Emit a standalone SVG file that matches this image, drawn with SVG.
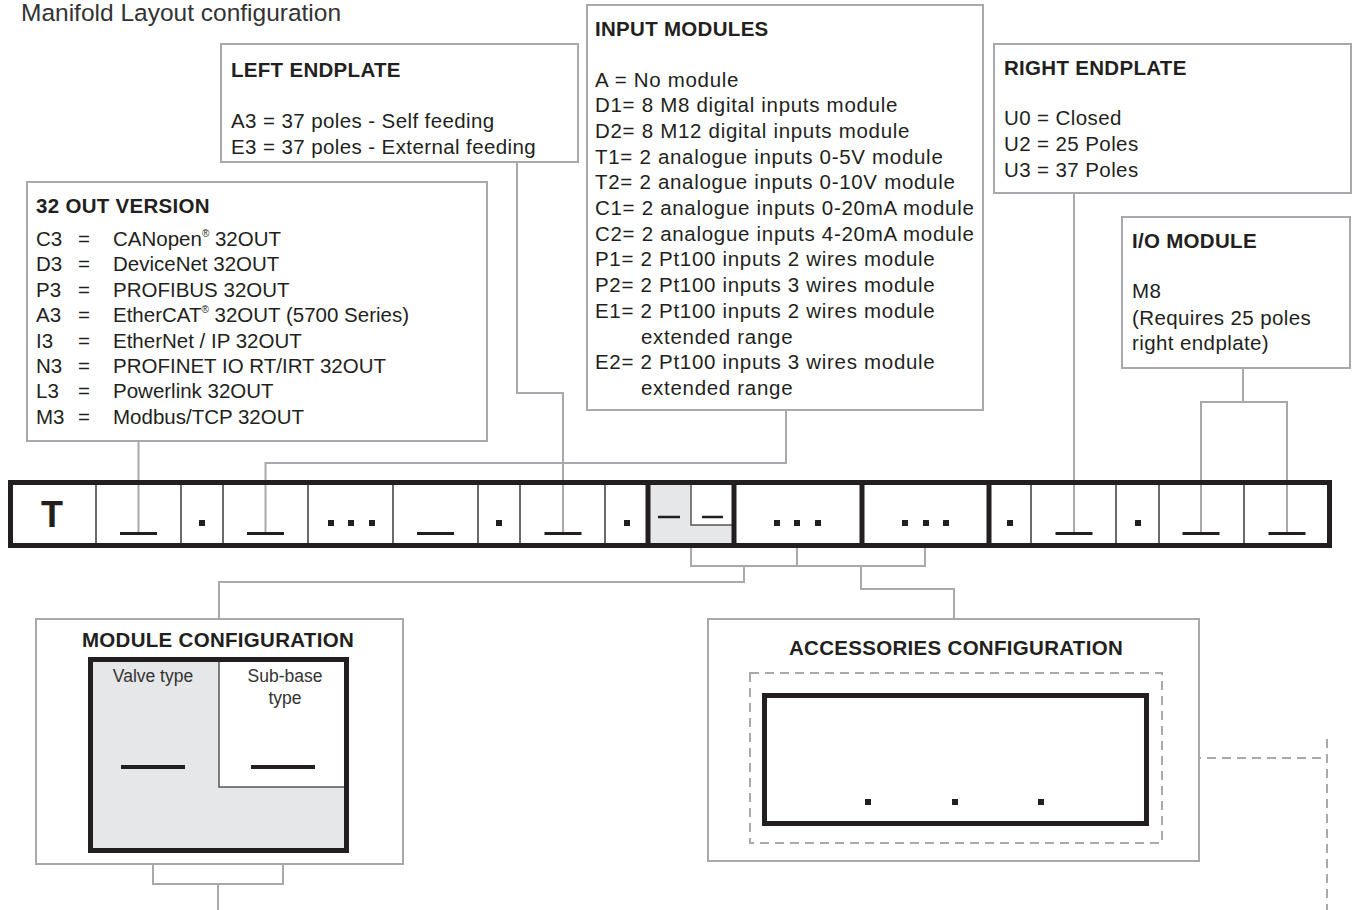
<svg xmlns="http://www.w3.org/2000/svg" width="1356" height="910" viewBox="0 0 1356 910">
<style>
text{font-family:"Liberation Sans",Arial,Helvetica,sans-serif;fill:#231f20}
.t{font-size:20.5px}
.w{letter-spacing:0.4px}
.wi{letter-spacing:0.7px}
.b{font-size:20.5px;font-weight:bold;letter-spacing:0.3px}
.box{fill:#fff;stroke:#a7a9ac;stroke-width:2}
.con{fill:none;stroke:#a7a9ac;stroke-width:2}
.dash{fill:none;stroke:#a7a9ac;stroke-width:2;stroke-dasharray:9 6}
.thick{fill:none;stroke:#231f20;stroke-width:5}
.thin{stroke:#3a3a3a;stroke-width:1.5}
.us{stroke:#231f20;stroke-width:3}
.dot{fill:#231f20}
.sm{font-size:17.5px;fill:#333}
</style>
<rect width="1356" height="910" fill="#fff"/>
<text x="21" y="21" style="font-size:24.5px;fill:#333">Manifold Layout configuration</text>

<g id="left-endplate">
<rect class="box" x="221" y="44" width="357" height="118"/>
<text class="b" x="231" y="77">LEFT ENDPLATE</text>
<text class="t w" x="231" y="128">A3 = 37 poles - Self feeding</text>
<text class="t w" x="231" y="154">E3 = 37 poles - External feeding</text>
</g>

<g id="out32-version">
<rect class="box" x="27" y="182" width="460" height="259"/>
<text class="b" x="36" y="213">32 OUT VERSION</text>
<text class="t" x="36" y="246">C3</text><text class="t" x="78" y="246">=</text><text class="t" x="113" y="246">CANopen<tspan style="font-size:10px" dy="-9">®</tspan><tspan dy="9"> 32OUT</tspan></text>
<text class="t" x="36" y="271">D3</text><text class="t" x="78" y="271">=</text><text class="t" x="113" y="271">DeviceNet 32OUT</text>
<text class="t" x="36" y="297">P3</text><text class="t" x="78" y="297">=</text><text class="t" x="113" y="297">PROFIBUS 32OUT</text>
<text class="t" x="36" y="322">A3</text><text class="t" x="78" y="322">=</text><text class="t" x="113" y="322">EtherCAT<tspan style="font-size:10px" dy="-9">®</tspan><tspan dy="9"> 32OUT (5700 Series)</tspan></text>
<text class="t" x="36" y="348">I3</text><text class="t" x="78" y="348">=</text><text class="t" x="113" y="348">EtherNet / IP 32OUT</text>
<text class="t" x="36" y="373">N3</text><text class="t" x="78" y="373">=</text><text class="t" x="113" y="373">PROFINET IO RT/IRT 32OUT</text>
<text class="t" x="36" y="398">L3</text><text class="t" x="78" y="398">=</text><text class="t" x="113" y="398">Powerlink 32OUT</text>
<text class="t" x="36" y="424">M3</text><text class="t" x="78" y="424">=</text><text class="t" x="113" y="424">Modbus/TCP 32OUT</text>
</g>

<g id="input-modules">
<rect class="box" x="587" y="5" width="396" height="405"/>
<text class="b" x="595" y="36">INPUT MODULES</text>
<text class="t wi" x="595" y="86.5">A = No module</text>
<text class="t wi" x="595" y="112.2">D1= 8 M8 digital inputs module</text>
<text class="t wi" x="595" y="137.9">D2= 8 M12 digital inputs module</text>
<text class="t wi" x="595" y="163.6">T1= 2 analogue inputs 0-5V module</text>
<text class="t wi" x="595" y="189.3">T2= 2 analogue inputs 0-10V module</text>
<text class="t wi" x="595" y="215">C1= 2 analogue inputs 0-20mA module</text>
<text class="t wi" x="595" y="240.7">C2= 2 analogue inputs 4-20mA module</text>
<text class="t wi" x="595" y="266.4">P1= 2 Pt100 inputs 2 wires module</text>
<text class="t wi" x="595" y="292.1">P2= 2 Pt100 inputs 3 wires module</text>
<text class="t wi" x="595" y="317.8">E1= 2 Pt100 inputs 2 wires module</text>
<text class="t wi" x="641" y="343.5">extended range</text>
<text class="t wi" x="595" y="369.2">E2= 2 Pt100 inputs 3 wires module</text>
<text class="t wi" x="641" y="394.9">extended range</text>
</g>

<g id="right-endplate">
<rect class="box" x="994" y="44" width="357" height="149"/>
<text class="b" x="1004" y="75">RIGHT ENDPLATE</text>
<text class="t w" x="1004" y="125">U0 = Closed</text>
<text class="t w" x="1004" y="151">U2 = 25 Poles</text>
<text class="t w" x="1004" y="177">U3 = 37 Poles</text>
</g>

<g id="io-module">
<rect class="box" x="1122" y="217" width="228" height="151"/>
<text class="b" x="1132" y="248">I/O MODULE</text>
<text class="t w" x="1132" y="298">M8</text>
<text class="t w" x="1132" y="325">(Requires 25 poles</text>
<text class="t w" x="1132" y="350">right endplate)</text>
</g>

<g id="code-bar">
<rect x="10.5" y="482.5" width="1319" height="63" fill="#fff"/>
<rect x="648" y="485" width="86" height="58" fill="#e6e7e8"/>
<rect x="691" y="485" width="43" height="40" fill="#fff"/>
</g>

<g id="connectors">
<path class="con" d="M138.5,441V533"/>
<path class="con" d="M517,162V393H563V533"/>
<path class="con" d="M786,410V463H265.5V533"/>
<path class="con" d="M1074,193V533"/>
<path class="con" d="M1243,368V402"/>
<path class="con" d="M1201,533V402H1287V533"/>
<path class="con" d="M691,548V566H925V548"/>
<path class="con" d="M797,548V566"/>
<path class="con" d="M744,566V582H219V619"/>
<path class="con" d="M861,566V589H954V619"/>
<path class="con" d="M153,767V884H283V767"/>
<path class="con" d="M218,884V910"/>
<path class="dash" d="M1162,758H1327"/>
<path class="dash" d="M1327,739V910"/>
</g>

<g id="code-bar-cells">
<path class="thin" d="M96,485V543M181,485V543M223,485V543M308,485V543M393,485V543M478,485V543M520,485V543M605,485V543M1031,485V543M1116,485V543M1159,485V543M1244,485V543"/>
<path fill="none" stroke="#555" stroke-width="1.5" d="M691,485V525H734"/>
<path class="thick" d="M648,483V545M734,483V545M862,483V545M989,483V545"/>
<rect class="thick" x="10.5" y="482.5" width="1319" height="63"/>
<text x="52" y="527" text-anchor="middle" style="font-size:36px;font-weight:bold">T</text>
<path class="us" d="M120,533.5h37M247,533.5h37M417,533.5h37M544.5,533.5h37M1055.5,533.5h37M1182.5,533.5h37M1268.5,533.5h37"/>
<path stroke="#231f20" stroke-width="2.5" d="M658,517H680M702,517H723"/>
<g class="dot">
<rect x="199" y="520" width="6" height="6"/>
<rect x="328" y="520" width="6" height="6"/>
<rect x="348" y="520" width="6" height="6"/>
<rect x="369" y="520" width="6" height="6"/>
<rect x="496" y="520" width="6" height="6"/>
<rect x="624" y="520" width="6" height="6"/>
<rect x="774" y="520" width="6" height="6"/>
<rect x="794" y="520" width="6" height="6"/>
<rect x="815" y="520" width="6" height="6"/>
<rect x="902" y="520" width="6" height="6"/>
<rect x="923" y="520" width="6" height="6"/>
<rect x="943" y="520" width="6" height="6"/>
<rect x="1007" y="520" width="6" height="6"/>
<rect x="1135" y="520" width="6" height="6"/>
</g>
</g>

<g id="module-configuration">
<rect class="box" x="36" y="619" width="367" height="245"/>
<text class="b" x="218" y="647" text-anchor="middle">MODULE CONFIGURATION</text>
<rect x="90.5" y="659.5" width="256" height="191" fill="#e6e7e8" stroke="#231f20" stroke-width="5"/>
<rect x="219" y="662" width="125" height="125" fill="#fff"/>
<path fill="none" stroke="#555" stroke-width="1.5" d="M219,662V787H344"/>
<text class="sm" x="153" y="682" text-anchor="middle">Valve type</text>
<text class="sm" x="285" y="682" text-anchor="middle">Sub-base</text>
<text class="sm" x="285" y="704" text-anchor="middle">type</text>
<path stroke="#231f20" stroke-width="4" d="M121,767H185M251,767H315"/>
</g>

<g id="accessories-configuration">
<rect class="box" x="708" y="619" width="491" height="242"/>
<text class="b" x="956" y="655" text-anchor="middle">ACCESSORIES CONFIGURATION</text>
<rect class="dash" x="750" y="673" width="412" height="170"/>
<rect class="thick" x="764.5" y="695.5" width="382" height="128" fill="#fff"/>
<rect class="dot" x="865" y="799" width="6" height="6"/>
<rect class="dot" x="952" y="799" width="6" height="6"/>
<rect class="dot" x="1038" y="799" width="6" height="6"/>
</g>
</svg>
